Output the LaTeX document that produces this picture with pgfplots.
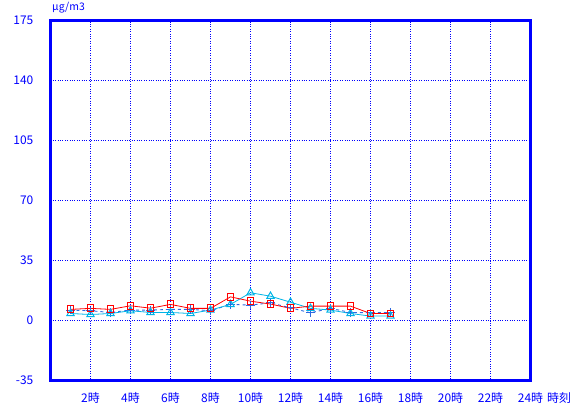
\documentclass[border=0pt]{standalone}
\usepackage{pgfplots}
\pgfplotsset{compat=1.18}
\usepackage{fontspec}
\setmainfont{Noto Sans CJK JP}
\definecolor{tb}{RGB}{0,0,255}
\definecolor{cy}{RGB}{0,180,230}
\definecolor{db}{RGB}{45,105,225}
\begin{document}
\begin{tikzpicture}
\path[use as bounding box] (0bp,0bp) rectangle (578bp,410bp);
\begin{axis}[
  at={(50.5bp,29.3bp)}, anchor=south west,
  scale only axis, width=480bp, height=360bp,
  xmin=0, xmax=24, ymin=-35, ymax=175,
  xtick={2,4,...,24},
  xticklabels={2時,4時,6時,8時,10時,12時,14時,16時,18時,20時,22時,24時},
  ytick={-35,0,35,70,105,140,175},
  grid=major,
  grid style={tb, dotted, line width=0.9pt},
  axis line style={tb, line width=2.6pt},
  major tick length=0pt,
  tick label style={tb, font=\fontsize{12}{14}\selectfont},
  /pgf/number format/assume math mode=true,
  yticklabel style={anchor=east, inner sep=0pt, xshift=-17bp},
  xticklabel style={anchor=center, inner sep=0pt, yshift=-17bp},
  clip=false,
]
\addplot[db, line width=0.9pt, dashed, mark=+, mark size=4.2pt, mark options={solid, line width=1pt}] coordinates {
(1,6.2) (2,5.8) (3,4.8) (4,6.2) (5,6.2) (6,6.6) (7,6.6) (8,5.8) (9,9.5) (10,9.1) (11,10.4) (12,7.5) (13,4.6) (14,7.2) (15,4.8) (16,4.6) (17,4.8)};
\addplot[cy, line width=0.8pt, mark=triangle, mark size=4.2pt, mark options={solid, line width=1pt}] coordinates {
(1,4.2) (2,3.6) (3,4.2) (4,5.8) (5,4.8) (6,4.8) (7,4.2) (8,6.2) (9,9.5) (10,16.3) (11,14.3) (12,10.8) (13,7.2) (14,6.2) (15,4.2) (16,2.7) (17,2.7)};
\addplot[red, line width=0.8pt, mark=square, mark size=3.5pt, mark options={solid, line width=1pt}] coordinates {
(1,6.6) (2,7.2) (3,6.6) (4,8.7) (5,7.3) (6,9.5) (7,7.2) (8,7.2) (9,13.9) (10,11.4) (11,9.7) (12,7.2) (13,8.5) (14,8.5) (15,8.5) (16,4.2) (17,4.2)};
\end{axis}
\node[anchor=west, text=tb, font=\fontsize{10.5}{12}\selectfont, inner sep=0pt] at (52bp,402bp) {μg/m3};
\node[anchor=west, text=tb, font=\fontsize{12}{14}\selectfont, inner sep=0pt] at (547bp,12bp) {時刻};
\end{tikzpicture}
\end{document}
